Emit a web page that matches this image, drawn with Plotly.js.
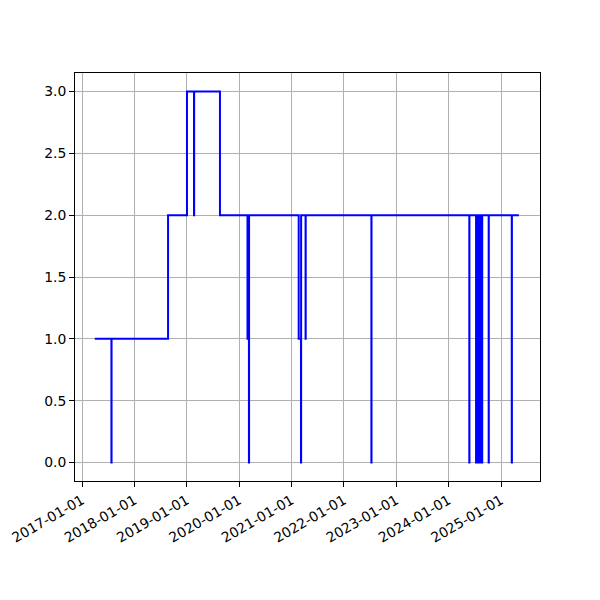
<!DOCTYPE html>
<html>
<head>
<meta charset="utf-8">
<script src="https://cdn.plot.ly/plotly-3.0.1.min.js"></script>
<style>html,body{margin:0;padding:0;background:#fff;}#chart{width:600px;height:600px;}</style>
</head>
<body>
<div id="chart"></div>
<script>
// Step series: dates and values (post-step)
const dates = [
  '2017-03-31','2017-07-25','2017-07-26',
  '2018-08-24',
  '2019-01-03','2019-02-21','2019-02-22','2019-08-21',
  '2020-02-29','2020-03-10','2020-03-11',
  '2021-02-20','2021-03-08','2021-03-09','2021-04-09','2021-04-10',
  '2022-07-12','2022-07-13',
  '2024-05-25','2024-05-26',
  '2024-07-11','2024-07-12','2024-07-14','2024-07-15','2024-07-17','2024-07-18',
  '2024-07-20','2024-07-21','2024-07-23','2024-07-24','2024-07-26','2024-07-27',
  '2024-07-29','2024-07-30','2024-08-01','2024-08-02','2024-08-04','2024-08-05',
  '2024-08-07','2024-08-08','2024-08-10','2024-08-11','2024-08-13','2024-08-14',
  '2024-08-16','2024-08-17','2024-08-19','2024-08-20','2024-08-22','2024-08-23',
  '2024-10-07','2024-10-08',
  '2025-03-17','2025-03-18',
  '2025-05-06'
];
const values = [
  1,0,1,
  2,
  3,2,3,2,
  1,0,2,
  1,0,2,1,2,
  0,2,
  0,2,
  0,2,0,2,0,2,
  0,2,0,2,0,2,
  0,2,0,2,0,2,
  0,2,0,2,0,2,
  0,2,0,2,0,2,
  0,2,
  0,2,
  2
];
const tickDates = ['2017-01-01','2018-01-01','2019-01-01','2020-01-01','2021-01-01','2022-01-01','2023-01-01','2024-01-01','2025-01-01'];
const yTicks = [0,0.5,1,1.5,2,2.5,3];

const trace = {
  x: dates, y: values, type: 'scatter', mode: 'lines',
  line: {shape: 'hv', color: '#0000ff', width: 2},
  hoverinfo: 'skip'
};
const fontFam = 'DejaVu Sans, sans-serif';
const layout = {
  width: 600, height: 600,
  margin: {l: 75, r: 60, t: 73, b: 119},
  paper_bgcolor: '#fff', plot_bgcolor: '#fff',
  showlegend: false,
  font: {family: fontFam, size: 13.9, color: '#000'},
  xaxis: {
    type: 'date',
    range: ['2016-11-13', '2025-09-30'],
    tickvals: tickDates, ticktext: tickDates,
    tickangle: -30,
    ticks: 'outside', ticklen: 5, tickwidth: 1, tickcolor: '#000',
    showgrid: true, gridcolor: '#b0b0b0', gridwidth: 1,
    showline: true, linecolor: '#000', linewidth: 1, mirror: true,
    zeroline: false,
    tickfont: {family: fontFam, size: 13.9, color: '#000'}
  },
  yaxis: {
    range: [-0.15, 3.15],
    tickvals: yTicks, ticktext: yTicks.map(v => v.toFixed(1)),
    ticks: 'outside', ticklen: 5, tickwidth: 1, tickcolor: '#000',
    showgrid: true, gridcolor: '#b0b0b0', gridwidth: 1,
    showline: true, linecolor: '#000', linewidth: 1, mirror: true,
    zeroline: false,
    tickfont: {family: fontFam, size: 13.9, color: '#000'}
  }
};
Plotly.newPlot('chart', [trace], layout, {staticPlot: true, displayModeBar: false});
</script>
</body>
</html>
